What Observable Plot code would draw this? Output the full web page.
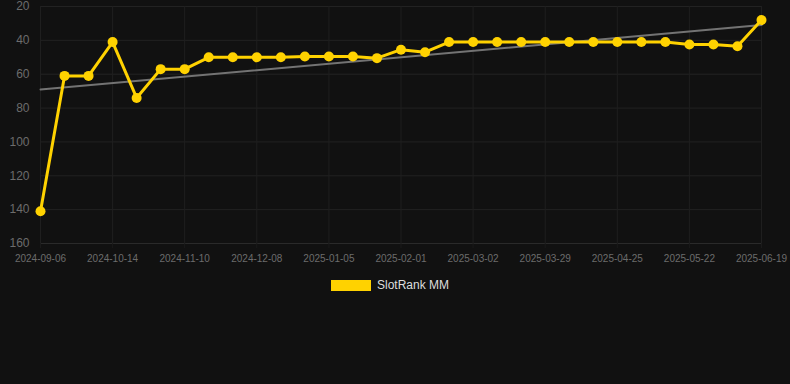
<!DOCTYPE html>
<html>
<head>
<meta charset="utf-8">
<script src="https://cdn.jsdelivr.net/npm/d3@7"></script>
<script src="https://cdn.jsdelivr.net/npm/@observablehq/plot@0.6"></script>
<style>
  html, body { margin: 0; padding: 0; background: #111111; }
  body { width: 790px; height: 384px; overflow: hidden; font-family: "Liberation Sans", Arial, sans-serif; }
  #legend { display: flex; justify-content: center; align-items: center; height: 20px; margin-top: 6px; padding-right: 10px; }
  #legend .sw { width: 40px; height: 11px; background: #ffd200; margin-right: 6px; }
  #legend .lb { color: #dddddd; font-size: 12px; }
</style>
</head>
<body>
<div id="chart"></div>
<div id="legend"><div class="sw"></div><div class="lb">SlotRank MM</div></div>
<script>
const seriesName = "SlotRank MM";
const dates = [
  "2024-09-06","2024-09-19","2024-10-01","2024-10-14","2024-10-23","2024-11-01",
  "2024-11-10","2024-11-19","2024-11-29","2024-12-08","2024-12-17","2024-12-27",
  "2025-01-05","2025-01-14","2025-01-23","2025-02-01","2025-02-11","2025-02-20",
  "2025-03-02","2025-03-11","2025-03-20","2025-03-29","2025-04-07","2025-04-16",
  "2025-04-25","2025-05-04","2025-05-13","2025-05-22","2025-05-31","2025-06-10",
  "2025-06-19"
];
const ranks = [
  141, 61, 61, 41, 74, 57, 57, 50, 50, 50, 50, 49.5, 49.5, 49.5, 50.5, 45.5,
  47, 41, 41, 41, 41, 41, 41, 41, 41, 41, 41, 42.5, 42.5, 43.5, 28
];
const yTicks = [20, 40, 60, 80, 100, 120, 140, 160];
const xTickIdx = dates.map((d, i) => i).filter(i => i % 3 === 0);

const data = dates.map((d, i) => ({i, date: d, rank: ranks[i]}));

const plot = Plot.plot({
  width: 790,
  height: 269,
  marginTop: 6,
  marginBottom: 26,
  marginLeft: 40,
  marginRight: 29,
  style: {background: "#111111", fontFamily: "'Liberation Sans', Arial, sans-serif"},
  x: {type: "linear", domain: [0, dates.length - 1]},
  y: {domain: [20, 160], reverse: true},
  marks: [
    Plot.gridY(yTicks, {stroke: "#222222", strokeOpacity: 1}),
    Plot.gridX(xTickIdx, {stroke: "#1f1f1f", strokeOpacity: 1}),
    Plot.ruleY([160], {stroke: "#2a2a2a"}),
    Plot.axisY(yTicks, {tickSize: 0, tickPadding: 11, fontSize: 12, fill: "#6c6c6c", label: null}),
    Plot.axisX(xTickIdx, {tickSize: 5, stroke: "#1a1a1a", tickPadding: 6, fontSize: 10, fill: "#6c6c6c", label: null, tickFormat: i => dates[i]}),
    Plot.linearRegressionY(data, {x: "i", y: "rank", ci: 0, stroke: "#737373", strokeWidth: 2}),
    Plot.line(data, {x: "i", y: "rank", stroke: "#ffd200", strokeWidth: 3}),
    Plot.dot(data, {x: "i", y: "rank", r: 5, fill: "#ffd200", stroke: "none"})
  ]
});
document.getElementById("chart").appendChild(plot);
</script>
</body>
</html>
